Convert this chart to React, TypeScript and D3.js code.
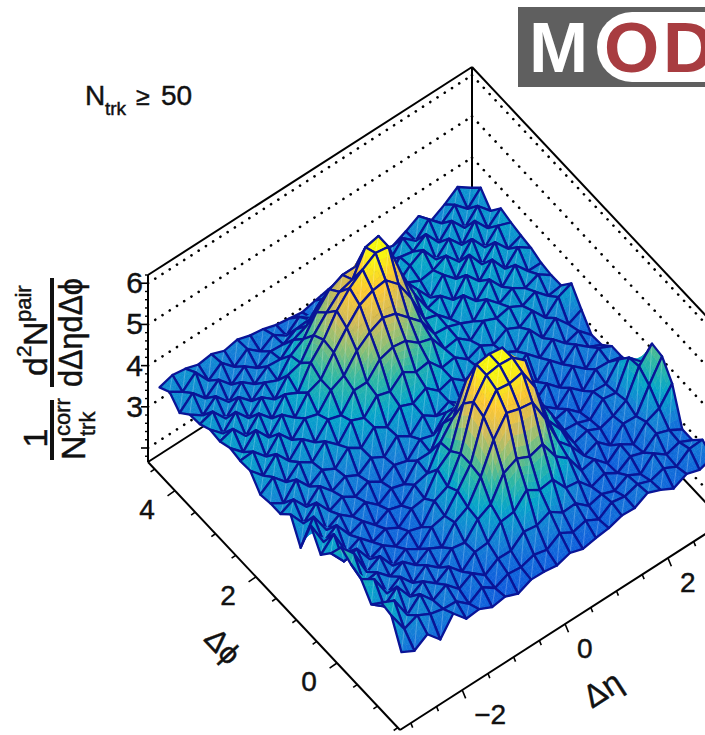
import { useEffect, useRef } from "react";
import * as d3 from "d3";

const W = 705;
const H = 735;

// z values, rows run along dPhi, columns along dEta
const zRows: number[][] = [
  [3.32,3.15,3.35,3.02,3.45,3.12,3.15,3.0,3.05,2.92,3.06,3.05,3.0,3.1,3.0,3.06,3.1,3.2,3.18,3.35,3.22,3.05,3.2,3.1,3.2],
  [3.95,3.42,3.55,3.38,3.3,3.28,3.02,3.22,3.0,3.14,3.1,3.2,3.12,3.32,3.14,3.22,3.05,3.26,3.2,3.3,3.18,3.28,3.12,3.35,3.37],
  [4.0,3.85,3.3,3.6,3.25,3.42,3.12,3.3,3.05,3.25,3.24,3.5,3.45,3.58,3.36,3.38,3.12,3.2,3.08,3.25,3.08,3.38,3.15,3.25,3.1],
  [3.7,3.45,3.72,3.28,3.45,3.2,3.4,3.08,3.35,3.38,3.68,3.72,4.05,3.85,3.9,3.5,3.45,3.12,3.24,3.05,3.25,3.14,3.4,3.28,3.1],
  [4.05,3.85,3.3,3.5,3.15,3.38,3.12,3.38,3.32,3.68,3.85,4.4,4.55,4.4,4.5,4.0,3.75,3.25,3.32,3.02,3.28,3.08,3.42,3.55,3.95],
  [4.15,3.5,3.55,3.25,3.4,3.12,3.32,3.15,3.55,3.72,4.25,4.95,5.4,5.3,5.25,4.65,3.9,3.58,3.15,3.28,3.0,3.32,3.3,3.85,4.35],
  [4.3,3.95,3.3,3.48,3.05,3.25,3.05,3.38,3.45,3.85,4.3,5.25,5.7,5.65,5.72,5.15,4.15,3.72,3.2,3.3,3.15,3.25,3.42,4.05,4.4],
  [3.9,3.5,3.6,3.15,3.28,3.05,3.22,3.12,3.55,3.7,4.3,5.35,5.8,5.85,5.82,5.55,4.4,3.85,3.25,3.22,3.1,3.4,3.35,4.0,3.7],
  [3.6,3.9,3.25,3.4,3.1,3.22,3.05,3.3,3.35,3.85,4.1,5.05,5.8,5.85,5.8,5.3,4.15,3.7,3.22,3.3,3.02,3.32,3.3,3.7,3.37],
  [4.05,3.45,3.65,3.22,3.35,3.05,3.22,3.12,3.42,3.5,4.05,4.45,5.15,5.2,5.05,4.45,3.95,3.35,3.3,3.05,3.35,3.08,3.4,3.38,3.3],
  [3.25,3.8,3.28,3.45,3.2,3.35,3.08,3.28,3.18,3.55,3.55,4.05,4.25,4.5,4.15,3.95,3.45,3.38,3.12,3.4,3.1,3.42,3.15,3.45,3.3],
  [3.8,3.38,3.68,3.28,3.42,3.22,3.38,3.18,3.38,3.28,3.6,3.5,3.85,3.72,3.78,3.42,3.45,3.2,3.45,3.18,3.5,3.2,3.48,3.22,3.07],
  [3.55,3.7,3.32,3.62,3.3,3.45,3.28,3.5,3.32,3.62,3.42,3.72,3.5,3.65,3.4,3.5,3.32,3.48,3.3,3.6,3.3,3.55,3.25,3.35,3.05],
  [3.55,3.35,3.72,3.35,3.55,3.38,3.68,3.48,3.78,3.58,3.88,3.75,3.92,3.65,3.75,3.5,3.62,3.42,3.58,3.4,3.72,3.32,3.6,3.25,3.4],
  [3.5,3.72,3.4,3.68,3.48,3.78,3.5,3.88,3.75,4.08,3.98,4.25,4.05,4.1,3.75,3.8,3.55,3.68,3.5,3.68,3.52,3.72,3.35,3.65,3.78],
  [3.82,3.5,3.82,3.45,3.78,3.5,3.85,3.75,4.15,4.15,4.5,4.6,4.55,4.3,4.2,3.75,3.8,3.55,3.82,3.68,3.75,3.58,3.72,3.42,3.47],
  [3.8,3.82,3.5,3.85,3.5,3.82,3.72,4.1,4.25,4.65,4.9,5.05,4.95,4.65,4.35,3.85,3.82,3.7,3.55,3.88,3.58,3.75,3.55,3.68,3.46],
  [3.85,3.55,3.88,3.5,3.85,3.58,3.98,4.1,4.55,4.95,5.3,5.45,5.5,5.2,4.65,3.95,3.85,3.55,3.92,3.58,3.9,3.52,3.85,3.5,3.5],
  [3.75,3.85,3.48,3.82,3.5,3.88,3.72,4.25,4.6,5.1,5.45,5.7,5.9,5.85,5.0,4.3,3.75,3.85,3.55,3.95,3.6,3.92,3.5,3.82,3.6],
  [3.78,3.48,3.8,3.45,3.75,3.5,3.88,3.98,4.45,4.8,5.1,5.2,5.78,5.85,4.9,4.35,3.95,3.55,3.9,3.6,3.98,3.55,3.88,3.52,3.64],
  [3.65,3.75,3.38,3.7,3.4,3.65,3.5,3.9,4.1,4.55,4.9,5.05,5.05,4.8,4.45,3.95,3.85,3.7,3.75,3.9,3.55,3.9,3.5,3.82,3.7],
  [3.62,3.4,3.66,3.32,3.6,3.35,3.58,3.55,3.82,3.95,4.3,4.4,4.3,4.3,3.9,3.78,3.55,3.8,3.98,3.55,3.85,3.5,3.88,3.5,3.78],
  [3.4,3.68,3.35,3.6,3.28,3.52,3.28,3.48,3.45,3.62,3.65,3.85,3.65,3.7,3.48,3.8,3.42,3.75,3.68,3.9,3.5,3.82,3.45,3.78,3.46],
  [3.65,3.45,3.72,3.32,3.55,3.25,3.48,3.22,3.42,3.2,3.45,3.22,3.5,3.28,3.38,3.4,3.7,3.42,3.75,3.48,3.8,3.5,3.75,3.45,3.76],
  [3.5,3.6,3.55,3.45,3.5,3.38,3.45,3.35,3.3,3.2,3.15,3.1,3.18,3.25,3.3,3.2,3.3,3.4,3.3,3.45,3.62,3.32,3.5,3.72,3.5],
];

const etaMajor = [-2, 0, 2];
const etaMinor = [-3, -2.5, -1.5, -1, -0.5, 0.5, 1, 1.5, 2.5, 3];
const phiMajor = [0, 2, 4];
const phiMinor = [-1.5, -1, -0.5, 0.5, 1, 1.5, 2.5, 3, 3.5, 4.5];
const zLabels = [3, 4, 5, 6];
const zGrid = [2, 3, 4, 5, 6];
const zMinor = [1.8, 2.2, 2.4, 2.6, 2.8, 3.2, 3.4, 3.6, 3.8, 4.2, 4.4, 4.6, 4.8, 5.2, 5.4, 5.6, 5.8, 6.2];

const birdStops = ["#352a87", "#0f5cdd", "#1481d6", "#06a4ca", "#2eb7a4", "#87bf77", "#d1bb59", "#fec832", "#f9fb0e"];

const App = () => {
  const svgRef = useRef<SVGSVGElement>(null);

  useEffect(() => {
    const svg = d3.select(svgRef.current);
    svg.selectAll("*").remove();
    const font = "'Liberation Sans', Arial, sans-serif";

    // oblique projection of the lego box
    const origin = { x: 400, y: 730 };
    const uVec = { x: 324, y: -208 };
    const vVec = { x: -252, y: -268 };
    const zScale = d3.scaleLinear().domain([1.66, 6.2]).range([0, 187]);
    const etaScale = d3.scaleLinear().domain([-3.21, 3.09]).range([0, 1]);
    const phiScale = d3.scaleLinear().domain([-1.555, 4.665]).range([0, 1]);
    const nEta = zRows[0].length;
    const nPhi = zRows.length;
    const etaBand = d3.scaleBand<number>().domain(d3.range(nEta)).range([0, 1]);
    const phiBand = d3.scaleBand<number>().domain(d3.range(nPhi)).range([0, 1]);
    const px = (u: number, v: number, z: number): [number, number] => [
      origin.x + u * uVec.x + v * vVec.x,
      origin.y + u * uVec.y + v * vVec.y - zScale(z),
    ];
    const node = (i: number, j: number) =>
      px(etaBand(j)! + etaBand.bandwidth() / 2, phiBand(i)! + phiBand.bandwidth() / 2, zRows[i][j]);

    const colorScale = d3
      .scaleLinear<string>()
      .domain(birdStops.map((_, k) => 2.6 + (k * (5.85 - 2.6)) / (birdStops.length - 1)))
      .range(birdStops)
      .clamp(true);

    const line = (g: any, a: [number, number], b: [number, number], stroke = "#000", sw = 2, dash?: string) =>
      g.append("line")
        .attr("x1", a[0]).attr("y1", a[1]).attr("x2", b[0]).attr("y2", b[1])
        .attr("stroke", stroke).attr("stroke-width", sw)
        .attr("stroke-dasharray", dash ?? null)
        .attr("stroke-linecap", dash ? "round" : "butt");

    const zLo = zScale.domain()[0];
    const zHi = zScale.domain()[1];

    // back walls
    const walls = svg.append("g");
    zGrid.forEach((z) => {
      line(walls, px(0, 1, z), px(1, 1, z), "#000", 2.6, "0.1 8.5");
      line(walls, px(1, 1, z), px(1, 0, z), "#000", 2.6, "0.1 8.5");
    });
    line(walls, px(0, 1, zHi), px(1, 1, zHi));
    line(walls, px(1, 1, zHi), px(1, 0, zHi));
    line(walls, px(1, 1, zLo), px(1, 1, zHi));
    line(walls, px(0, 1, zLo), px(1, 1, zLo));
    line(walls, px(1, 1, zLo), px(1, 0, zLo));

    // surface, far cells first
    const surf = svg.append("g");
    const sub = 4;
    for (let i = nPhi - 2; i >= 0; i--) {
      for (let j = nEta - 2; j >= 0; j--) {
        const p00 = node(i, j);
        const p01 = node(i, j + 1);
        const p10 = node(i + 1, j);
        const p11 = node(i + 1, j + 1);
        const mix = (a: number, b: number, c: number, d: number, s: number, t: number) =>
          a * (1 - s) * (1 - t) + b * s * (1 - t) + c * (1 - s) * t + d * s * t;
        const at = (s: number, t: number): [number, number] => [
          mix(p00[0], p01[0], p10[0], p11[0], s, t),
          mix(p00[1], p01[1], p10[1], p11[1], s, t),
        ];
        for (let a = 0; a < sub; a++) {
          for (let b = 0; b < sub; b++) {
            const s0 = a / sub, s1 = (a + 1) / sub, t0 = b / sub, t1 = (b + 1) / sub;
            const zc = mix(zRows[i][j], zRows[i][j + 1], zRows[i + 1][j], zRows[i + 1][j + 1], (s0 + s1) / 2, (t0 + t1) / 2);
            const c = colorScale(zc);
            surf.append("polygon")
              .attr("points", [at(s0, t0), at(s1, t0), at(s1, t1), at(s0, t1)].map((p) => p.join(",")).join(" "))
              .attr("fill", c)
              .attr("stroke", c)
              .attr("stroke-width", 0.6);
          }
        }
        // seam of the two triangles
        line(surf, p00, p11, "#fff", 0.6).attr("stroke-opacity", 0.4);
        surf.append("polygon")
          .attr("points", [p00, p01, p11, p10].map((p) => p.join(",")).join(" "))
          .attr("fill", "none")
          .attr("stroke", "#0a1496")
          .attr("stroke-width", 2.3)
          .attr("stroke-linejoin", "round");
      }
    }

    // front axes
    const axes = svg.append("g");
    line(axes, px(0, 0, zLo), px(1, 0, zLo));
    line(axes, px(0, 0, zLo), px(0, 1, zLo));
    line(axes, px(0, 1, zLo), px(0, 1, zHi));

    const etaTick = (val: number, len: number) => {
      const a = px(etaScale(val), 0, zLo);
      line(axes, a, [a[0] + len * 0.38, a[1] + len * 0.92], "#000", 1.6);
    };
    const phiTick = (val: number, len: number) => {
      const a = px(0, phiScale(val), zLo);
      line(axes, a, [a[0] - len * 0.82, a[1] + len * 0.57], "#000", 1.6);
    };
    etaMajor.forEach((v) => etaTick(v, 9));
    etaMinor.forEach((v) => etaTick(v, 5));
    phiMajor.forEach((v) => phiTick(v, 9));
    phiMinor.forEach((v) => phiTick(v, 5));
    zLabels.concat(2).forEach((v) => {
      const a = px(0, 1, v);
      line(axes, a, [a[0] - 7, a[1]], "#000", 1.6);
    });
    zMinor.forEach((v) => {
      const a = px(0, 1, v);
      line(axes, a, [a[0] - 3, a[1]], "#000", 1.4);
    });

    const text = (g: any, x: number, y: number, s: string, size: number, anchor = "start") =>
      g.append("text")
        .attr("x", x).attr("y", y)
        .attr("font-family", font).attr("font-size", size)
        .attr("text-anchor", anchor).attr("fill", "#111")
        .attr("stroke", "#111").attr("stroke-width", 0.45)
        .text(s);

    zLabels.forEach((v) => {
      const a = px(0, 1, v);
      text(axes, a[0] - 5, a[1] + 10, String(v), 30, "end");
    });
    etaMajor.forEach((v) => {
      const a = px(etaScale(v), 0, zLo);
      text(axes, a[0] + 12, a[1] + 34, v < 0 ? `\u2212${-v}` : String(v), 28);
    });
    phiMajor.forEach((v) => {
      const a = px(0, phiScale(v), zLo);
      text(axes, a[0] - 28, a[1] + 28, String(v), 28, "middle");
    });

    // axis titles
    const phiTitle = axes.append("g").attr("transform", "translate(222,647) rotate(47)");
    text(phiTitle, 0, 9, "\u0394\u03d5", 30, "middle");
    const etaTitle = axes.append("g").attr("transform", "translate(603,690) rotate(-33)");
    text(etaTitle, 0, 10, "\u0394\u03b7", 32, "middle");

    // z title, rotated fraction
    const zTitle = axes.append("g").attr("transform", "rotate(-90)");
    text(zTitle, -438, 47, "1", 34, "middle");
    text(zTitle, -460, 85, "N", 34);
    text(zTitle, -436, 70, "corr", 22);
    text(zTitle, -436, 95, "trk", 22);
    text(zTitle, -376, 47, "d", 34);
    text(zTitle, -357, 31, "2", 21);
    text(zTitle, -346, 47, "N", 34);
    text(zTitle, -322, 31, "pair", 22);
    text(zTitle, -387, 82, "d\u0394\u03b7d\u0394\u03d5", 33)
      .attr("textLength", 109)
      .attr("lengthAdjust", "spacingAndGlyphs");
    zTitle.append("rect").attr("x", -460).attr("y", 50).attr("width", 60).attr("height", 4).attr("fill", "#111");
    zTitle.append("rect").attr("x", -387).attr("y", 50).attr("width", 109).attr("height", 4).attr("fill", "#111");

    // multiplicity label
    text(axes, 85, 105, "N", 28);
    text(axes, 105, 115, "trk", 19);
    text(axes, 136, 105, "\u2265", 25);
    text(axes, 161, 105, "50", 28);

    // logo in the corner
    const logo = svg.append("g");
    logo.append("rect").attr("x", 518).attr("y", 7).attr("width", 200).attr("height", 80).attr("fill", "#5f5f5f");
    logo.append("rect").attr("x", 597).attr("y", 12).attr("width", 160).attr("height", 70).attr("rx", 35).attr("fill", "#fff");
    const logoText = (x: number, s: string, fill: string) =>
      logo.append("text").attr("x", x).attr("y", 72).attr("font-family", font).attr("font-size", 71)
        .attr("font-weight", 700).attr("fill", fill).text(s);
    logoText(529, "M", "#fff");
    logoText(604, "O", "#a83c40");
    logoText(663, "D", "#a83c40");
  }, []);

  return (
    <svg
      ref={svgRef}
      width={W}
      height={H}
      style={{ position: "absolute", left: 0, top: 0, background: "#fff" }}
    />
  );
};

export default App;
